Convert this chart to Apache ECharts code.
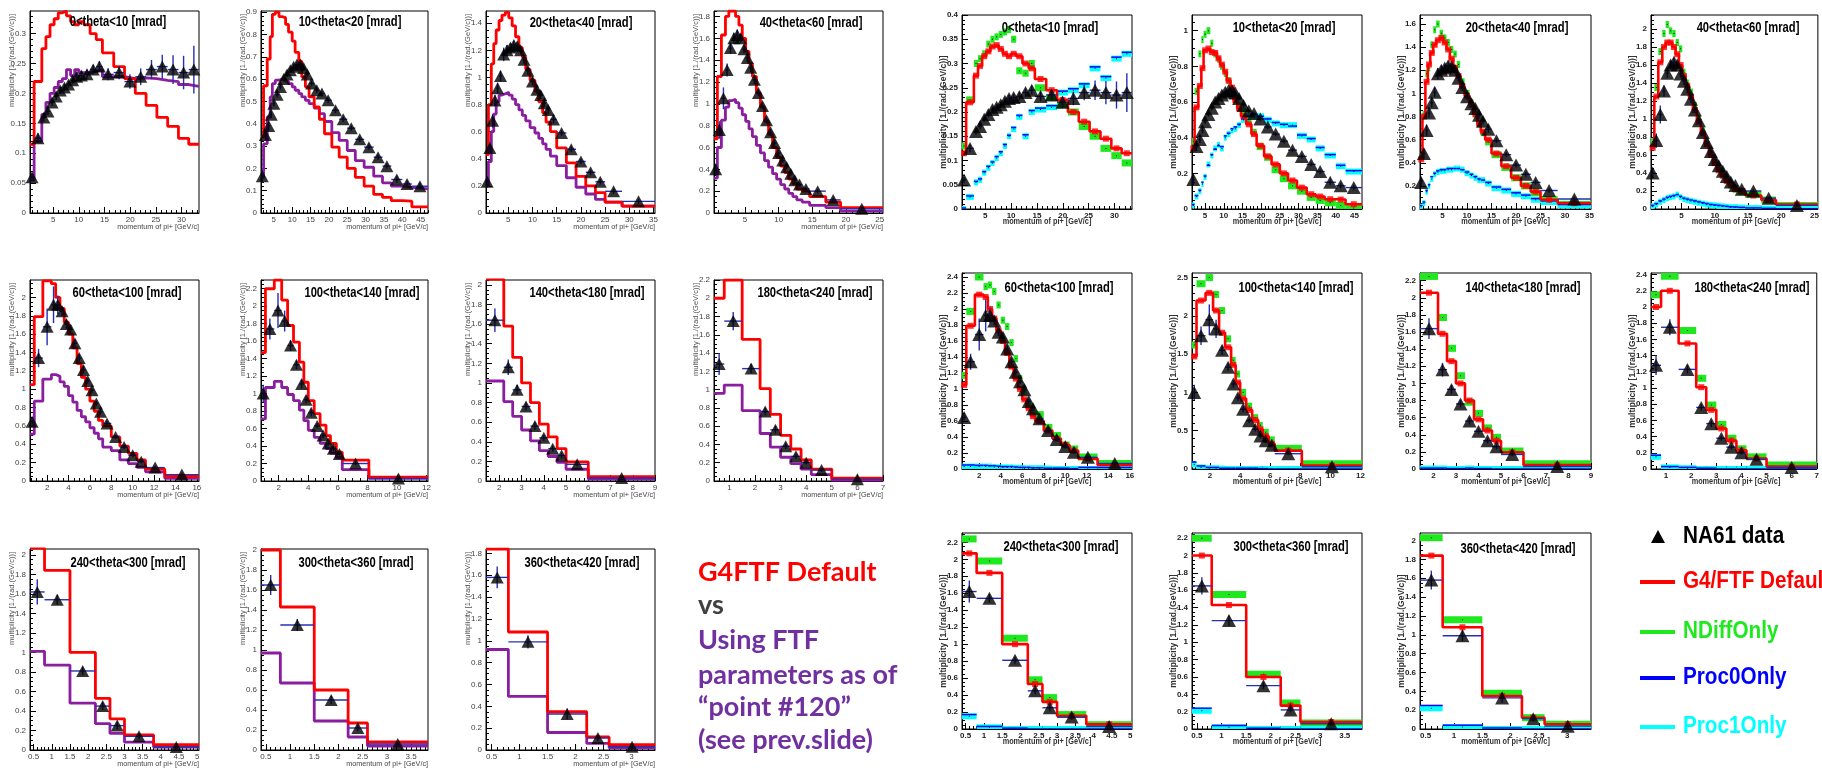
<!DOCTYPE html>
<html><head><meta charset="utf-8">
<script src="https://cdn.jsdelivr.net/npm/echarts@6/dist/echarts.min.js"></script>
<style>html,body{margin:0;padding:0;background:#fff;}#c{width:1822px;height:772px;}</style>
</head><body><div id="c"></div>
<script>
// ---------------- DATA ----------------
const TITLES = ['0<theta<10 [mrad]','10<theta<20 [mrad]','20<theta<40 [mrad]','40<theta<60 [mrad]','60<theta<100 [mrad]','100<theta<140 [mrad]','140<theta<180 [mrad]','180<theta<240 [mrad]','240<theta<300 [mrad]','300<theta<360 [mrad]','360<theta<420 [mrad]'];
const X_TITLE = 'momentum of pi+ [GeV/c]';
const Y_TITLE = 'multiplicity [1./(rad.(GeV/c))]';
const X_STEP  = [5,5,5,5,2,2,1,1,0.5,0.5,0.5];
const X_MINOR = [1,1,1,1,0.5,0.5,0.2,0.2,0.1,0.1,0.1];
const Y_MAX_L = [0.338,0.905,1.49,1.85,2.19,2.3,2.05,2.2,2.06,2.01,1.84];
const Y_STEP_L = [0.05,0.1,0.2,0.2,0.2,0.2,0.2,0.2,0.2,0.2,0.2];
const Y_MINOR_L = [0.01,0.02,0.05,0.05,0.05,0.05,0.05,0.05,0.05,0.05,0.05];
const Y_MAX_R = [0.4,1.088,1.678,2.156,2.45,2.56,2.29,2.42,2.31,2.26,2.08];
const Y_STEP_R = [0.05,0.2,0.2,0.2,0.2,0.5,0.2,0.2,0.2,0.2,0.2];
const Y_MINOR_R = [0.01,0.05,0.05,0.05,0.05,0.1,0.05,0.05,0.05,0.05,0.05];

const P1_edges = [0.5,1.3,2.8,3.6,4.4,5.2,6.0,6.8,7.6,8.4,9.2,10.0,11.0,12.2,13.4,14.6,16.8,18.9,21.0,23.1,25.2,27.3,29.4,31.4,33.4];
const P1_data  = [0.06,0.125,0.16,0.17,0.185,0.195,0.205,0.21,0.215,0.222,0.228,0.23,0.232,0.24,0.245,0.232,0.235,0.22,0.228,0.24,0.245,0.24,0.235,0.24];
const P1_err   = [0.006,0.008,0.007,0.006,0.006,0.006,0.006,0.006,0.006,0.006,0.007,0.007,0.008,0.008,0.009,0.01,0.011,0.012,0.014,0.016,0.02,0.024,0.028,0.04];
const P1_g4    = [0.115,0.22,0.275,0.295,0.315,0.325,0.335,0.338,0.33,0.32,0.315,0.32,0.315,0.3,0.29,0.268,0.245,0.225,0.2,0.18,0.16,0.145,0.125,0.115];
const P1_pt120 = [0.055,0.12,0.165,0.185,0.2,0.21,0.22,0.225,0.24,0.23,0.24,0.235,0.235,0.237,0.24,0.228,0.228,0.225,0.226,0.225,0.222,0.22,0.215,0.212];
const P1_ndiff = [0.13,0.225,0.30,0.31,0.32,0.34,0.35,0.355,0.36,0.365,0.37,0.35,0.285,0.28,0.3,0.25,0.23,0.215,0.2,0.17,0.15,0.125,0.11,0.095];
const P1_proc0 = [0.002,0.027,0.057,0.062,0.077,0.088,0.097,0.108,0.118,0.133,0.152,0.168,0.193,0.153,0.203,0.208,0.213,0.243,0.248,0.258,0.293,0.273,0.313,0.323];
const P1_proc1 = [0.0,0.025,0.055,0.06,0.075,0.085,0.095,0.105,0.115,0.13,0.15,0.165,0.19,0.15,0.2,0.205,0.21,0.24,0.245,0.255,0.29,0.27,0.31,0.32];

const P2_edges = [1.5,2.2,3.2,4.0,4.6,5.4,6.4,7.2,8.2,9.0,10.0,10.8,11.8,12.6,13.6,14.6,16.0,17.4,18.8,20.8,22.8,25.0,27.2,29.6,32.2,34.6,37.0,40.0,42.6,47.0];
const P2_data  = [0.165,0.35,0.39,0.44,0.49,0.53,0.565,0.6,0.62,0.64,0.655,0.665,0.665,0.65,0.62,0.58,0.55,0.535,0.505,0.46,0.42,0.38,0.33,0.295,0.25,0.21,0.15,0.13,0.12];
const P2_err   = [0.03,0.025,0.02,0.015,0.012,0.012,0.012,0.012,0.012,0.012,0.012,0.012,0.012,0.012,0.012,0.012,0.012,0.012,0.012,0.012,0.012,0.012,0.012,0.012,0.012,0.012,0.015,0.015,0.015];
const P2_g4    = [0.34,0.57,0.69,0.79,0.89,0.9,0.88,0.875,0.845,0.81,0.77,0.72,0.68,0.61,0.565,0.52,0.475,0.42,0.355,0.295,0.25,0.2,0.16,0.12,0.083,0.07,0.055,0.053,0.027];
const P2_pt120 = [0.16,0.31,0.43,0.52,0.58,0.595,0.6,0.6,0.59,0.58,0.565,0.55,0.535,0.52,0.505,0.49,0.47,0.445,0.41,0.36,0.325,0.28,0.235,0.205,0.165,0.135,0.12,0.115,0.108];
const P2_ndiff = [0.38,0.66,0.87,0.95,0.98,1.0,0.93,0.87,0.84,0.8,0.76,0.72,0.66,0.62,0.58,0.55,0.5,0.43,0.35,0.29,0.22,0.17,0.13,0.1,0.065,0.048,0.035,0.02,0.005];
const P2_proc0 = [0.025,0.075,0.105,0.15,0.185,0.245,0.305,0.335,0.355,0.35,0.41,0.425,0.45,0.46,0.475,0.505,0.52,0.53,0.52,0.505,0.485,0.475,0.465,0.415,0.395,0.345,0.305,0.245,0.215];
const P2_proc1 = [0.02,0.07,0.1,0.14,0.18,0.25,0.3,0.34,0.36,0.34,0.4,0.42,0.44,0.45,0.47,0.5,0.52,0.52,0.52,0.5,0.48,0.47,0.47,0.41,0.39,0.34,0.3,0.24,0.21];

const P3_edges = [0.4,0.9,1.5,2.0,2.5,3.1,3.7,4.4,5.1,5.8,6.5,7.2,7.9,8.6,9.5,10.5,11.3,12.1,12.8,13.7,15.0,17.0,19.0,21.0,23.0,25.0,28.5,35.3];
const P3_data  = [0.23,0.48,0.68,0.83,0.92,1.01,1.17,1.2,1.22,1.24,1.23,1.2,1.13,1.05,0.97,0.91,0.87,0.81,0.76,0.69,0.59,0.47,0.38,0.3,0.23,0.16,0.086];
const P3_err   = [0.04,0.04,0.05,0.04,0.04,0.04,0.05,0.04,0.03,0.03,0.03,0.03,0.03,0.03,0.03,0.03,0.03,0.03,0.03,0.03,0.02,0.02,0.02,0.02,0.02,0.02,0.02];
const P3_g4    = [0.43,0.8,1.1,1.25,1.35,1.42,1.46,1.48,1.44,1.38,1.3,1.22,1.15,1.06,0.98,0.9,0.82,0.74,0.67,0.6,0.48,0.37,0.27,0.2,0.15,0.08,0.05];
const P3_pt120 = [0.2,0.38,0.6,0.73,0.82,0.87,0.88,0.89,0.87,0.84,0.8,0.76,0.72,0.68,0.63,0.59,0.55,0.51,0.47,0.42,0.35,0.26,0.19,0.14,0.1,0.08,0.05];
const P3_ndiff = [0.45,0.82,1.17,1.22,1.42,1.55,1.6,1.52,1.48,1.44,1.38,1.34,1.25,1.1,1.0,0.92,0.82,0.74,0.66,0.58,0.47,0.36,0.27,0.2,0.14,0.08,0.04];
const P3_proc0 = [0.03,0.06,0.16,0.21,0.28,0.31,0.33,0.34,0.34,0.35,0.35,0.35,0.35,0.34,0.32,0.3,0.28,0.26,0.25,0.23,0.19,0.17,0.14,0.12,0.09,0.07,0.04];
const P3_proc1 = [0.02,0.05,0.15,0.2,0.26,0.3,0.32,0.33,0.33,0.34,0.34,0.35,0.35,0.34,0.31,0.29,0.27,0.25,0.25,0.22,0.18,0.16,0.13,0.11,0.08,0.06,0.03];

const P4_edges = [0.4,0.9,1.5,2.1,2.6,3.1,3.6,4.1,4.6,5.1,5.6,6.1,6.7,7.3,7.9,8.5,9.1,9.7,10.3,10.9,11.5,12.1,12.7,13.5,14.6,17.0,19.2,25.5];
const P4_data  = [0.4,0.76,1.05,1.31,1.51,1.6,1.63,1.6,1.5,1.42,1.33,1.22,1.1,0.98,0.85,0.74,0.64,0.55,0.48,0.42,0.36,0.3,0.26,0.22,0.2,0.12,0.04];
const P4_err   = [0.05,0.08,0.1,0.06,0.05,0.05,0.05,0.04,0.04,0.04,0.04,0.04,0.03,0.03,0.03,0.03,0.03,0.03,0.02,0.02,0.02,0.02,0.02,0.02,0.02,0.02,0.01];
const P4_g4    = [0.68,1.25,1.63,1.8,1.85,1.85,1.8,1.72,1.6,1.48,1.37,1.25,1.1,0.97,0.84,0.72,0.6,0.51,0.43,0.37,0.31,0.27,0.22,0.2,0.15,0.1,0.05];
const P4_pt120 = [0.32,0.6,0.85,0.97,1.03,1.04,1.01,0.96,0.9,0.84,0.77,0.7,0.62,0.55,0.48,0.42,0.36,0.31,0.26,0.22,0.18,0.15,0.12,0.1,0.07,0.05,0.02];
const P4_ndiff = [0.75,1.35,1.75,1.95,2.05,1.98,1.95,1.85,1.78,1.52,1.4,1.3,1.15,1.0,0.87,0.74,0.62,0.52,0.45,0.38,0.32,0.26,0.22,0.19,0.16,0.1,0.04];
const P4_proc0 = [0.04,0.06,0.09,0.11,0.13,0.14,0.15,0.16,0.14,0.12,0.11,0.1,0.09,0.08,0.07,0.06,0.05,0.045,0.04,0.035,0.03,0.025,0.022,0.018,0.012,0.007,0.004];
const P4_proc1 = [0.03,0.05,0.08,0.1,0.12,0.13,0.14,0.16,0.13,0.11,0.1,0.09,0.08,0.07,0.06,0.05,0.045,0.04,0.035,0.03,0.025,0.02,0.02,0.015,0.01,0.005,0.003];

const P5_edges = [0.4,0.8,1.6,2.4,2.8,3.2,3.6,4.0,4.4,4.8,5.2,5.6,6.0,6.4,6.8,7.2,8.0,8.8,9.6,10.4,11.2,13.0,16.2];
const P5_data  = [0.645,1.34,1.68,1.92,1.92,1.85,1.71,1.65,1.5,1.34,1.21,1.09,0.99,0.845,0.754,0.627,0.48,0.37,0.28,0.21,0.146,0.07];
const P5_err   = [0.04,0.1,0.2,0.2,0.1,0.05,0.05,0.05,0.04,0.04,0.04,0.03,0.03,0.03,0.03,0.03,0.02,0.02,0.02,0.02,0.02,0.02];
const P5_g4    = [1.05,1.79,2.18,2.15,2.0,1.88,1.73,1.6,1.45,1.28,1.13,1.0,0.87,0.76,0.66,0.6,0.48,0.38,0.3,0.23,0.13,0.05];
const P5_pt120 = [0.51,0.87,1.11,1.16,1.14,1.08,1.03,0.93,0.86,0.77,0.7,0.645,0.58,0.52,0.46,0.37,0.33,0.23,0.19,0.15,0.1,0.03];
const P5_ndiff = [1.17,1.97,2.4,2.28,2.3,2.22,2.05,1.86,1.78,1.58,1.38,1.13,0.97,0.8,0.7,0.68,0.52,0.42,0.3,0.25,0.15,0.07];
const P5_proc0 = [0.05,0.05,0.045,0.045,0.04,0.04,0.035,0.03,0.03,0.03,0.025,0.02,0.02,0.02,0.015,0.015,0.01,0.01,0.01,0.005,0.02,0.02];
const P5_proc1 = [0.03,0.03,0.03,0.03,0.03,0.025,0.02,0.02,0.02,0.02,0.015,0.015,0.01,0.01,0.01,0.01,0.005,0.0,0.0,0.0,0.0,0.0];

const P6_edges = [0.8,1.1,1.7,2.2,2.6,3.0,3.4,3.7,4.0,4.4,4.8,5.2,5.5,5.9,6.3,8.1,12.1];
const P6_data  = [1.0,1.74,1.95,1.83,1.55,1.33,1.11,0.93,0.78,0.63,0.52,0.43,0.37,0.31,0.2,0.03];
const P6_err   = [0.1,0.12,0.2,0.12,0.06,0.05,0.05,0.04,0.04,0.03,0.03,0.03,0.03,0.02,0.02,0.02];
const P6_g4    = [1.47,2.2,2.3,2.07,1.78,1.59,1.36,1.13,0.92,0.77,0.64,0.52,0.43,0.33,0.24,0.045];
const P6_pt120 = [0.71,1.07,1.14,1.07,0.99,0.92,0.81,0.69,0.58,0.5,0.43,0.37,0.32,0.27,0.13,0.03];
const P6_ndiff = [1.62,2.42,2.5,2.28,2.07,1.7,1.42,1.24,1.0,0.82,0.67,0.57,0.48,0.38,0.27,0.07];
const P6_proc0 = [0.09,0.04,0.02,0.02,0.01,0.01,0.01,0.01,0.01,0.01,0.01,0.005,0.005,0.0,0.0,0.0];
const P6_proc1 = [0.06,0.02,0.01,0.01,0.005,0.0,0.0,0.0,0.0,0.0,0.0,0.0,0.0,0.0,0.0,0.0];

const P7_edges = [1.4,2.2,2.6,3.0,3.4,3.8,4.2,4.6,5.0,6.0,9.0];
const P7_data  = [1.64,1.16,0.93,0.76,0.56,0.44,0.33,0.26,0.17,0.03];
const P7_err   = [0.12,0.08,0.05,0.04,0.04,0.03,0.03,0.03,0.02,0.02];
const P7_g4    = [2.06,1.58,1.26,1.0,0.8,0.58,0.45,0.33,0.195,0.045];
const P7_pt120 = [1.02,0.81,0.66,0.52,0.41,0.31,0.25,0.19,0.12,0.02];
const P7_ndiff = [2.25,1.77,1.41,1.09,0.78,0.65,0.48,0.37,0.21,0.06];
const P7_proc0 = [0.01,0.01,0.005,0.005,0.01,0.005,0.005,0.0,0.0,0.0];
const P7_proc1 = [0.005,0.005,0.0,0.0,0.005,0.0,0.0,0.0,0.0,0.0];

const P8_edges = [0.4,0.8,1.5,2.2,2.6,3.0,3.4,3.8,4.2,5.0,7.0];
const P8_data  = [1.28,1.75,1.23,0.76,0.56,0.38,0.27,0.2,0.12,0.02];
const P8_err   = [0.12,0.1,0.05,0.04,0.04,0.03,0.03,0.02,0.02,0.02];
const P8_g4    = [2.0,2.2,1.55,1.01,0.73,0.5,0.35,0.23,0.13,0.03];
const P8_pt120 = [0.96,1.05,0.77,0.52,0.37,0.26,0.19,0.13,0.07,0.01];
const P8_ndiff = [2.15,2.38,1.71,1.12,0.79,0.55,0.38,0.25,0.15,0.05];
const P8_proc0 = [0.17,0.03,0.02,0.01,0.01,0.0,0.0,0.0,0.0,0.0];
const P8_proc1 = [0.15,0.02,0.01,0.0,0.0,0.0,0.0,0.0,0.0,0.0];

const P9_edges = [0.4,0.8,1.5,2.2,2.6,3.0,3.8,5.05];
const P9_data  = [1.62,1.54,0.81,0.45,0.25,0.14,0.03];
const P9_err   = [0.13,0.05,0.04,0.04,0.04,0.03,0.03];
const P9_g4    = [2.07,1.84,1.0,0.53,0.32,0.155,0.055];
const P9_pt120 = [1.01,0.87,0.48,0.27,0.17,0.08,0.03];
const P9_ndiff = [2.24,1.98,1.07,0.58,0.37,0.17,0.05];
const P9_proc0 = [0.17,0.03,0.01,0.0,0.0,0.0,0.0];
const P9_proc1 = [0.15,0.02,0.0,0.0,0.0,0.0,0.0];

const P10_edges = [0.4,0.8,1.5,2.2,2.6,3.85];
const P10_data  = [1.65,1.25,0.5,0.22,0.06];
const P10_err   = [0.1,0.06,0.04,0.03,0.02];
const P10_g4    = [2.0,1.43,0.6,0.27,0.08];
const P10_pt120 = [0.97,0.67,0.29,0.13,0.04];
const P10_ndiff = [2.2,1.55,0.63,0.3,0.07];
const P10_proc0 = [0.24,0.04,0.01,0.0,0.0];
const P10_proc1 = [0.21,0.02,0.0,0.0,0.0];

const P11_edges = [0.4,0.8,1.5,2.2,2.6,3.42];
const P11_data  = [1.58,0.99,0.33,0.11,0.03];
const P11_err   = [0.1,0.06,0.05,0.03,0.02];
const P11_g4    = [1.84,1.08,0.35,0.12,0.05];
const P11_pt120 = [0.92,0.49,0.16,0.06,0.02];
const P11_ndiff = [2.03,1.16,0.38,0.12,0.05];
const P11_proc0 = [0.25,0.04,0.01,0.0,0.0];
const P11_proc1 = [0.22,0.02,0.0,0.0,0.0];

const SLIDE_TEXT = ['G4FTF Default','vs','Using FTF','parameters as of','\u201Cpoint #120\u201D','(see prev.slide)'];
const LEGEND_NAMES = ['NA61 data','G4/FTF Default','NDiffOnly','Proc0Only','Proc1Only'];

// ---------------- LAYOUT / STYLE ----------------
const L_COLS = [[30,199],[261,428],[486,655],[714,883]];
const L_ROWS = [[11,213],[280,481],[549,750]];
const R_COLS = [[962,1132],[1192,1362],[1420,1591],[1651,1821]];
const R_ROWS = [[15,209],[273,469],[533,729]];
const TITLE_POS_L = [[118,22],[350,22],[581,23],[811,23],[127,293],[362,293],[587,293],[815,293],[128,563],[356,563],[582,563]];
const TITLE_POS_R = [[1050,28],[1284,28],[1517,28],[1748,28],[1059,288],[1296,288],[1523,288],[1752,288],[1061,547],[1291,547],[1518,549]];
const RED = '#ff0000', PURPLE = '#8b1e9e', GREEN = '#1ee81e', CYAN = '#00ffff', BLUE = '#0000ff', DBLUE = '#2530b0';

const panels = [
 {e:P1_edges,d:P1_data,er:P1_err,g4:P1_g4,pt:P1_pt120,nd:P1_ndiff,p0:P1_proc0,p1:P1_proc1},
 {e:P2_edges,d:P2_data,er:P2_err,g4:P2_g4,pt:P2_pt120,nd:P2_ndiff,p0:P2_proc0,p1:P2_proc1},
 {e:P3_edges,d:P3_data,er:P3_err,g4:P3_g4,pt:P3_pt120,nd:P3_ndiff,p0:P3_proc0,p1:P3_proc1},
 {e:P4_edges,d:P4_data,er:P4_err,g4:P4_g4,pt:P4_pt120,nd:P4_ndiff,p0:P4_proc0,p1:P4_proc1},
 {e:P5_edges,d:P5_data,er:P5_err,g4:P5_g4,pt:P5_pt120,nd:P5_ndiff,p0:P5_proc0,p1:P5_proc1},
 {e:P6_edges,d:P6_data,er:P6_err,g4:P6_g4,pt:P6_pt120,nd:P6_ndiff,p0:P6_proc0,p1:P6_proc1},
 {e:P7_edges,d:P7_data,er:P7_err,g4:P7_g4,pt:P7_pt120,nd:P7_ndiff,p0:P7_proc0,p1:P7_proc1},
 {e:P8_edges,d:P8_data,er:P8_err,g4:P8_g4,pt:P8_pt120,nd:P8_ndiff,p0:P8_proc0,p1:P8_proc1},
 {e:P9_edges,d:P9_data,er:P9_err,g4:P9_g4,pt:P9_pt120,nd:P9_ndiff,p0:P9_proc0,p1:P9_proc1},
 {e:P10_edges,d:P10_data,er:P10_err,g4:P10_g4,pt:P10_pt120,nd:P10_ndiff,p0:P10_proc0,p1:P10_proc1},
 {e:P11_edges,d:P11_data,er:P11_err,g4:P11_g4,pt:P11_pt120,nd:P11_ndiff,p0:P11_proc0,p1:P11_proc1}
];

// ---------------- BUILD ----------------
const grids=[], xAxes=[], yAxes=[], series=[], graphics=[];
function ticks(a,b,s){const out=[];let k=Math.ceil(a/s-1e-6);for(;;k++){const v=Math.round(k*s*1e6)/1e6;if(v>b+1e-9)break;out.push(v);}return out;}
const fmt = v => String(Math.round(v*1000)/1000);

function stepLine(xi,yi,e,vals,color,w,z){
  const pts=vals.map((v,i)=>[e[i],v]); pts.push([e[e.length-1],vals[vals.length-1]]);
  return {type:'line',xAxisIndex:xi,yAxisIndex:yi,data:pts,step:'end',symbol:'none',showSymbol:false,
    lineStyle:{color:color,width:w},itemStyle:{color:color},z:z,silent:true,animation:false};
}
function binBars(xi,yi,e,vals,errs,color,w,z){
  return {type:'custom',xAxisIndex:xi,yAxisIndex:yi,z:z,silent:true,clip:true,encode:{x:[0,1],y:2},
    data:vals.map((v,i)=>[e[i],e[i+1],v,errs?errs[i]:0]),
    renderItem:(p,api)=>{
      const x0=api.value(0),x1=api.value(1),v=api.value(2),er=api.value(3);
      const a=api.coord([x0,v]),b=api.coord([x1,v]);
      const ch=[{type:'line',shape:{x1:a[0],y1:a[1],x2:b[0],y2:b[1]},style:{stroke:color,lineWidth:w}}];
      if(er>0){const t=api.coord([(x0+x1)/2,v+er]),u=api.coord([(x0+x1)/2,v-er]);
        ch.push({type:'line',shape:{x1:t[0],y1:t[1],x2:u[0],y2:u[1]},style:{stroke:color,lineWidth:w}});}
      return {type:'group',children:ch};}};
}
function boxes(xi,yi,e,vals,color,h,z){
  return {type:'custom',xAxisIndex:xi,yAxisIndex:yi,z:z,silent:true,clip:true,encode:{x:[0,1],y:2},
    data:vals.map((v,i)=>[e[i],e[i+1],v]),
    renderItem:(p,api)=>{const a=api.coord([api.value(0),api.value(2)]),b=api.coord([api.value(1),api.value(2)]);
      return {type:'group',children:[
        {type:'rect',shape:{x:a[0],y:a[1]-h/2,width:b[0]-a[0],height:h},style:{fill:color}},
        {type:'rect',shape:{x:(a[0]+b[0])/2-0.5,y:a[1]-0.5,width:1,height:1},style:{fill:'#000'}}]};}};
}
function markers(xi,yi,e,vals,sym,size,color,z){
  return {type:'scatter',xAxisIndex:xi,yAxisIndex:yi,symbol:sym,symbolSize:size,z:z,silent:true,
    itemStyle:{color:color},data:vals.map((v,i)=>[(e[i]+e[i+1])/2,v])};
}

function addPanel(side,k){
  const P=panels[k], isL=side==='L';
  const c=(isL?L_COLS:R_COLS)[k%4], r=(isL?L_ROWS:R_ROWS)[Math.floor(k/4)];
  const gi=grids.length;
  grids.push({left:c[0],top:r[0],width:c[1]-c[0],height:r[1]-r[0],show:true,borderColor:'#000',borderWidth:1,backgroundColor:'rgba(0,0,0,0)'});
  const e=P.e, xmin=e[0], xmax=e[e.length-1];
  const ymax=(isL?Y_MAX_L:Y_MAX_R)[k], ys=(isL?Y_STEP_L:Y_STEP_R)[k], ym=(isL?Y_MINOR_L:Y_MINOR_R)[k];
  const lbl={fontSize:8,fontFamily:'Liberation Sans',color:isL?'#444':'#222',fontWeight:isL?'normal':'bold'};
  const xi=xAxes.length, yi=yAxes.length;
  const xt=ticks(xmin,xmax,X_STEP[k]), yt=ticks(0,ymax,ys);
  xAxes.push({gridIndex:gi,type:'value',min:xmin,max:xmax,position:'bottom',
    axisLine:{show:true,onZero:false,lineStyle:{color:'#000',width:1}},
    axisTick:{show:true,inside:true,length:6,customValues:xt,lineStyle:{color:'#000',width:1}},
    axisLabel:Object.assign({show:true,customValues:xt,margin:3,formatter:fmt},lbl),splitLine:{show:false}});
  xAxes.push({gridIndex:gi,type:'value',min:xmin,max:xmax,position:'bottom',
    axisLine:{show:false,onZero:false},
    axisTick:{show:true,inside:true,length:3,customValues:ticks(xmin,xmax,X_MINOR[k]),lineStyle:{color:'#000',width:1}},
    axisLabel:{show:false},splitLine:{show:false}});
  yAxes.push({gridIndex:gi,type:'value',min:0,max:ymax,position:'left',
    axisLine:{show:true,onZero:false,lineStyle:{color:'#000',width:1}},
    axisTick:{show:true,inside:true,length:6,customValues:yt,lineStyle:{color:'#000',width:1}},
    axisLabel:Object.assign({show:true,customValues:yt,margin:4,formatter:fmt},lbl),splitLine:{show:false}});
  yAxes.push({gridIndex:gi,type:'value',min:0,max:ymax,position:'left',
    axisLine:{show:false,onZero:false},
    axisTick:{show:true,inside:true,length:3,customValues:ticks(0,ymax,ym),lineStyle:{color:'#000',width:1}},
    axisLabel:{show:false},splitLine:{show:false}});

  if(isL){
    series.push(stepLine(xi,yi,e,P.pt,PURPLE,2.8,3));
    series.push(stepLine(xi,yi,e,P.g4,RED,2.8,4));
    series.push(binBars(xi,yi,e,P.d,P.er,DBLUE,1.4,6));
    series.push(markers(xi,yi,e,P.d,'triangle',[13,12],'#000',7));
  } else {
    series.push(boxes(xi,yi,e,P.nd,GREEN,7,2));
    series.push(boxes(xi,yi,e,P.p1,CYAN,6,3));
    series.push(binBars(xi,yi,e,P.p0,null,BLUE,1.5,4));
    series.push(stepLine(xi,yi,e,P.g4,RED,2.6,5));
    series.push(markers(xi,yi,e,P.g4,'rect',6,RED,5));
    series.push(binBars(xi,yi,e,P.d,P.er,DBLUE,1.4,6));
    series.push(markers(xi,yi,e,P.d,'triangle',[14,13],'#000',7));
  }
  const tp=(isL?TITLE_POS_L:TITLE_POS_R)[k];
  graphics.push({type:'text',x:tp[0],y:tp[1],scaleX:0.8,z:100,
    style:{text:TITLES[k],fontSize:14,fontWeight:'bold',fontFamily:'Liberation Sans',fill:'#000',align:'center',verticalAlign:'middle'}});
  if(isL){
    graphics.push({type:'text',x:c[1],y:r[1]+14,scaleX:0.9,z:100,
      style:{text:X_TITLE,fontSize:8,fontFamily:'Liberation Sans',fill:'#444',align:'right',verticalAlign:'middle'}});
    graphics.push({type:'text',x:c[0]-18,y:r[0]+3,rotation:Math.PI/2,z:100,
      style:{text:Y_TITLE,fontSize:7.5,fontFamily:'Liberation Sans',fill:'#555',align:'right',verticalAlign:'middle'}});
  } else {
    graphics.push({type:'text',x:(c[0]+c[1])/2,y:r[1]+13,scaleX:0.86,z:100,
      style:{text:X_TITLE,fontSize:8.5,fontWeight:'bold',fontFamily:'Liberation Sans',fill:'#333',align:'center',verticalAlign:'middle'}});
    graphics.push({type:'text',x:c[0]-18,y:(r[0]+r[1])/2,rotation:Math.PI/2,z:100,
      style:{text:Y_TITLE,fontSize:8.5,fontWeight:'bold',fontFamily:'Liberation Sans',fill:'#333',align:'center',verticalAlign:'middle'}});
  }
}
for(let k=0;k<11;k++){addPanel('L',k);}
for(let k=0;k<11;k++){addPanel('R',k);}

// slide text (left block)
const SLIDE_COLORS=['#ff0000','#404040','#7030a0','#7030a0','#7030a0','#7030a0'];
const SLIDE_Y=[572,605,640,675,707,740];
SLIDE_TEXT.forEach((t,i)=>graphics.push({type:'text',x:698,y:SLIDE_Y[i],z:100,
  style:{text:t,fontSize:27,fontWeight:'bold',fontFamily:'Lato',fill:SLIDE_COLORS[i],align:'left',verticalAlign:'middle'}}));

// legend (right block)
const LEG_COLORS=['#000000','#ff0000','#1ee81e','#0000ff','#00ffff'];
const LEG_Y=[537,582,632,678,727];
graphics.push({type:'polygon',z:100,shape:{points:[[1658,530],[1651,543],[1665,543]]},style:{fill:'#000'}});
for(let i=1;i<5;i++){
  graphics.push({type:'line',z:100,shape:{x1:1640,y1:LEG_Y[i],x2:1675,y2:LEG_Y[i]},style:{stroke:LEG_COLORS[i],lineWidth:4}});
}
LEGEND_NAMES.forEach((t,i)=>graphics.push({type:'text',x:1683,y:LEG_Y[i],scaleX:0.9,z:100,
  style:{text:t,fontSize:23,fontWeight:'bold',fontFamily:'Liberation Sans',fill:LEG_COLORS[i],align:'left',verticalAlign:'middle'}}));

const chart=echarts.init(document.getElementById('c'),null,{renderer:'canvas'});
chart.setOption({animation:false,backgroundColor:'#ffffff',grid:grids,xAxis:xAxes,yAxis:yAxes,series:series,graphic:graphics});
</script></body></html>
